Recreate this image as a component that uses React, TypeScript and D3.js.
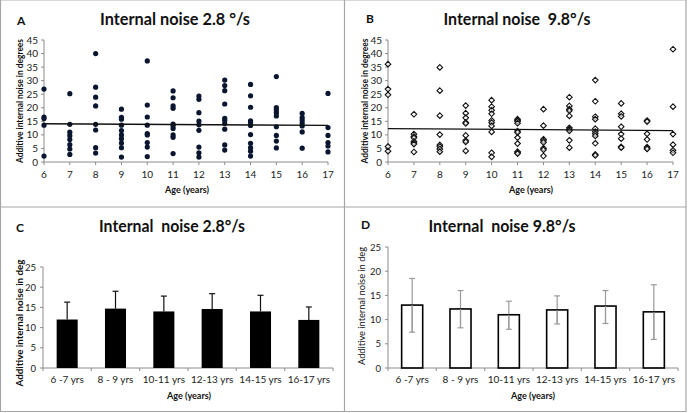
import React from "react";
import * as d3 from "d3";

// ---------- DATA ----------
const ages = [6, 7, 8, 9, 10, 11, 12, 13, 14, 15, 16, 17];

// Additive internal noise (deg) at 2.8 deg/s, one list per age
const noise28: number[][] = [
  [26.9, 16.6, 16.0, 13.6, 2.2],
  [25.2, 13.9, 11.0, 9.7, 8.3, 6.4, 4.8, 2.8],
  [40.0, 27.6, 23.9, 20.7, 13.9, 11.8, 5.3, 3.3],
  [19.5, 16.5, 15.8, 13.6, 11.6, 10.0, 8.6, 7.0, 5.3, 1.8],
  [37.3, 21.0, 16.6, 13.6, 10.5, 10.0, 7.2, 5.5, 2.0],
  [26.2, 23.7, 20.7, 19.8, 14.0, 13.4, 12.4, 10.0, 9.1, 3.1],
  [24.3, 23.1, 18.2, 15.1, 13.7, 11.7, 5.5, 3.4, 1.8],
  [30.2, 28.2, 26.3, 21.4, 16.1, 15.4, 14.2, 12.1, 6.3, 4.4],
  [28.6, 24.4, 20.2, 15.2, 14.6, 13.5, 10.1, 6.9, 5.3, 4.0, 2.2],
  [31.5, 20.1, 19.2, 18.2, 17.0, 13.0, 9.8, 7.7, 5.2],
  [17.9, 16.4, 15.5, 14.4, 13.3, 11.1, 5.1],
  [25.3, 12.7, 9.8, 7.2, 5.9, 3.7],
];

// Additive internal noise (deg) at 9.8 deg/s, one list per age
const noise98: number[][] = [
  [36.1, 26.9, 24.8, 5.7, 4.0],
  [17.6, 10.3, 9.4, 8.9, 7.6, 7.0, 6.6, 3.7],
  [34.9, 26.3, 17.1, 10.1, 6.3, 5.7, 4.8, 3.8],
  [20.8, 18.0, 16.3, 14.6, 14.2, 9.8, 7.9, 7.4, 4.1],
  [22.8, 20.4, 19.1, 17.8, 15.3, 14.5, 13.3, 11.1, 3.4, 1.9],
  [15.8, 15.3, 15.0, 14.3, 11.4, 10.9, 9.0, 6.8, 3.8, 3.4, 3.1],
  [19.5, 13.4, 8.4, 7.8, 7.2, 5.1, 4.5, 2.2],
  [23.9, 20.7, 19.5, 18.9, 17.0, 12.6, 12.1, 11.5, 8.0, 5.3],
  [30.2, 22.4, 16.7, 15.8, 12.3, 11.2, 10.4, 9.6, 6.9, 2.8, 2.4],
  [21.6, 17.8, 16.8, 13.0, 10.3, 8.6, 5.6, 5.3],
  [15.3, 14.9, 10.4, 8.3, 5.5, 5.0, 4.8],
  [41.6, 20.4, 10.3, 6.4, 4.3, 3.4],
];

// Linear trend values at age 6 and age 17
const trend28 = [14.1, 13.5];
const trend98 = [12.3, 11.6];

const groups = ["6 -7 yrs", "8 - 9 yrs", "10-11 yrs", "12-13 yrs", "14-15 yrs", "16-17 yrs"];
const mean28 = [12.0, 14.7, 14.0, 14.6, 14.0, 11.9];
const upper28 = [16.3, 19.0, 17.8, 18.4, 18.0, 15.1];
const mean98 = [13.0, 12.2, 11.0, 12.0, 12.8, 11.6];
const low98 = [7.4, 8.3, 8.0, 9.1, 9.2, 5.9];
const high98 = [18.5, 16.0, 13.8, 14.9, 16.0, 17.2];

const scatterTicks = d3.range(0, 46, 5);
const barTicks = d3.range(0, 26, 5);

// ---------- STYLE ----------
const FONT = "Lato, 'Open Sans', sans-serif";
const AXIS = "#8c8c8c";
const TXT = "#222";

type ScatterProps = {
  x0: number; x1: number; yTop: number; yBot: number;
  data: number[][]; trend: number[]; hollow: boolean;
  title: string; titleX: number; titleLen: number;
  letter: string; letterX: number; letterY: number;
  yTitleX: number; yTitleLen: number; ageX: number;
};

function Scatter(p: ScatterProps) {
  const x = d3.scaleLinear().domain([6, 17]).range([p.x0, p.x1]);
  const y = d3.scaleLinear().domain([0, 45]).range([p.yBot, p.yTop]);
  const line = d3.line<[number, number]>().x((d) => x(d[0])).y((d) => y(d[1]));
  const diamond = d3.symbol().type(d3.symbolDiamond2).size(20)();
  return (
    <g fontFamily={FONT}>
      <text x={p.letterX} y={p.letterY} fontSize={12} fontWeight="bold" fill="#111">{p.letter}</text>
      <text x={p.titleX} y={25} fontSize={17} fontWeight="bold" textAnchor="middle" fill="#111"
        textLength={p.titleLen} lengthAdjust="spacingAndGlyphs" xmlSpace="preserve">{p.title}</text>
      {/* axes */}
      <line x1={p.x0} x2={p.x0} y1={y(45)} y2={y(0)} stroke={AXIS} />
      <line x1={p.x0} x2={p.x1} y1={y(0)} y2={y(0)} stroke={AXIS} />
      {scatterTicks.map((t) => (
        <g key={"yt" + t}>
          <line x1={p.x0 - 3} x2={p.x0} y1={y(t)} y2={y(t)} stroke={AXIS} />
          <text x={p.x0 - 6} y={y(t) + 3.5} fontSize={10} textAnchor="end" fill={TXT}>{t}</text>
        </g>
      ))}
      {ages.map((a) => (
        <g key={"xt" + a}>
          <line x1={x(a)} x2={x(a)} y1={y(0)} y2={y(0) + 3} stroke={AXIS} />
          <text x={x(a)} y={y(0) + 16} fontSize={10} textAnchor="middle" fill={TXT}>{a}</text>
        </g>
      ))}
      <text x={p.ageX} y={193} fontSize={10} fontWeight="bold" textAnchor="middle" fill="#111"
        textLength={44} lengthAdjust="spacingAndGlyphs">Age (years)</text>
      <text transform={`translate(${p.yTitleX},${(y(0) + y(45)) / 2}) rotate(-90)`} fontSize={9.5}
        fontWeight="bold" textAnchor="middle" fill="#111" textLength={p.yTitleLen}
        lengthAdjust="spacingAndGlyphs">Additive internal noise in degrees</text>
      {/* points */}
      {ages.map((a, i) =>
        p.data[i].map((v, j) =>
          p.hollow ? (
            <path key={`p${a}-${j}`} d={diamond!} transform={`translate(${x(a)},${y(v)})`}
              fill="white" fillOpacity={0.6} stroke="#111" strokeWidth={1.1} />
          ) : (
            <circle key={`p${a}-${j}`} cx={x(a)} cy={y(v)} r={2.6} fill="#0a1630" />
          )
        )
      )}
      <path d={line([[6, p.trend[0]], [17, p.trend[1]]])!} stroke="#111" strokeWidth={1.3} fill="none" />
    </g>
  );
}

type BarProps = {
  x0: number; x1: number; yTop: number; yBot: number;
  mean: number[]; lo: number[] | null; hi: number[];
  filled: boolean; title: string; titleX: number; titleLen: number;
  letter: string; letterX: number; letterY: number;
  yTitleX: number; yTitleLen: number; yTitleC: number; yTitleBold: boolean; ageX: number;
};

function Bars(p: BarProps) {
  const x = d3.scaleBand().domain(groups).range([p.x0, p.x1]).paddingInner(0.565).paddingOuter(0.28);
  const y = d3.scaleLinear().domain([0, 25]).range([p.yBot, p.yTop]);
  const step = x.step();
  const edges = d3.range(0, groups.length + 1).map((i) => p.x0 + ((p.x1 - p.x0) * i) / groups.length);
  const errColor = p.filled ? "#111" : "#9a9a9a";
  return (
    <g fontFamily={FONT}>
      <text x={p.letterX} y={p.letterY} fontSize={12} fontWeight="bold" fill="#111">{p.letter}</text>
      <text x={p.titleX} y={232} fontSize={17} fontWeight="bold" textAnchor="middle" fill="#111"
        textLength={p.titleLen} lengthAdjust="spacingAndGlyphs" xmlSpace="preserve">{p.title}</text>
      <line x1={p.x0} x2={p.x0} y1={y(25)} y2={y(0)} stroke={AXIS} />
      <line x1={p.x0} x2={p.x1} y1={y(0)} y2={y(0)} stroke={AXIS} />
      {barTicks.map((t) => (
        <g key={"yt" + t}>
          <line x1={p.x0 - 3} x2={p.x0} y1={y(t)} y2={y(t)} stroke={AXIS} />
          <text x={p.x0 - 7} y={y(t) + 3.5} fontSize={9.5} textAnchor="end" fill={TXT}>{t}</text>
        </g>
      ))}
      {edges.map((e, i) => (
        <line key={"e" + i} x1={e} x2={e} y1={y(0)} y2={y(0) + 3} stroke={AXIS} />
      ))}
      {groups.map((g, i) => {
        const cx = p.x0 + step * (i + 0.5) * ((p.x1 - p.x0) / (step * groups.length));
        const bw = x.bandwidth();
        const loV = p.lo ? p.lo[i] : p.mean[i];
        return (
          <g key={g}>
            <line x1={cx} x2={cx} y1={y(loV)} y2={y(p.hi[i])} stroke={errColor} strokeWidth={1.2} />
            <rect x={cx - bw / 2} y={y(p.mean[i])} width={bw} height={y(0) - y(p.mean[i])}
              fill={p.filled ? "#000" : "none"} stroke="#000" strokeWidth={p.filled ? 0 : 1.6} />
            {p.lo && <line x1={cx} x2={cx} y1={y(loV)} y2={y(p.mean[i])} stroke={errColor} strokeWidth={1.2} />}
            <line x1={cx - 3} x2={cx + 3} y1={y(p.hi[i])} y2={y(p.hi[i])} stroke={errColor} strokeWidth={1.2} />
            {p.lo && <line x1={cx - 3} x2={cx + 3} y1={y(loV)} y2={y(loV)} stroke={errColor} strokeWidth={1.2} />}
            <text x={cx} y={383} fontSize={10} textAnchor="middle" fill={TXT}>{g}</text>
          </g>
        );
      })}
      <text x={p.ageX} y={399} fontSize={10} fontWeight="bold" textAnchor="middle" fill="#111"
        textLength={44} lengthAdjust="spacingAndGlyphs">Age (years)</text>
      <text transform={`translate(${p.yTitleX},${p.yTitleC}) rotate(-90)`} fontSize={9.5}
        fontWeight={p.yTitleBold ? "bold" : "normal"} textAnchor="middle" fill="#111"
        textLength={p.yTitleLen} lengthAdjust="spacingAndGlyphs">Additive internal noise in deg</text>
    </g>
  );
}

export default function App() {
  return (
    <svg width={689} height={413} style={{ position: "absolute", left: 0, top: 0, background: "white" }}>
      <rect x={0} y={0} width={689} height={413} fill="white" />
      {/* panel frames */}
      <g stroke="#a6a6a6" strokeWidth={1.2} fill="none">
        <line x1={0.5} x2={686} y1={0.5} y2={0.5} stroke="#d8d8d8" />
        <line x1={0.5} x2={0.5} y1={0} y2={412} />
        <line x1={344.5} x2={344.5} y1={0} y2={412} />
        <line x1={686} x2={686} y1={0} y2={412} />
        <line x1={0} x2={686} y1={207} y2={207} />
        <line x1={0} x2={686} y1={411.5} y2={411.5} />
      </g>
      <Scatter x0={44} x1={328} yTop={40} yBot={162} data={noise28} trend={trend28} hollow={false}
        title="Internal noise 2.8 °/s" titleX={175} titleLen={150} letter="A" letterX={17} letterY={25}
        yTitleX={23} yTitleLen={124} ageX={187} />
      <Scatter x0={388} x1={673} yTop={40} yBot={162} data={noise98} trend={trend98} hollow={true}
        title="Internal noise  9.8°/s" titleX={517} titleLen={147} letter="B" letterX={366} letterY={23}
        yTitleX={368} yTitleLen={125} ageX={531} />
      <Bars x0={43} x1={333} yTop={267} yBot={368} mean={mean28} lo={null} hi={upper28} filled={true}
        title="Internal  noise 2.8°/s" titleX={172} titleLen={146} letter="C" letterX={16} letterY={232}
        yTitleX={23} yTitleLen={127} yTitleC={323} yTitleBold={true} ageX={189} />
      <Bars x0={388} x1={678} yTop={247} yBot={368} mean={mean98} lo={low98} hi={high98} filled={false}
        title="Internal  noise 9.8°/s" titleX={502} titleLen={147} letter="D" letterX={361} letterY={229}
        yTitleX={365} yTitleLen={118} yTitleC={306} yTitleBold={false} ageX={533} />
    </svg>
  );
}
